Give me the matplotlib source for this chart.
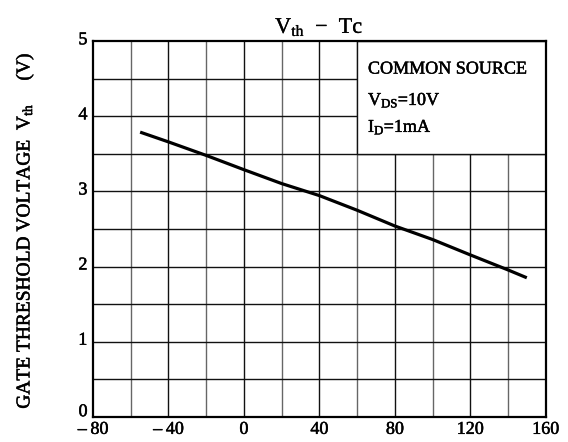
import numpy as np
import matplotlib
matplotlib.use("Agg")
import matplotlib.pyplot as plt
import matplotlib.patheffects as pe
from matplotlib.patches import Rectangle
from matplotlib.transforms import ScaledTranslation

# ---- DATA -------------------------------------------------------------------
tc = [-55, -40, -20, 0, 20, 40, 60, 80, 100, 120, 140, 150]
vth = [3.79, 3.66, 3.48, 3.29, 3.105, 2.945, 2.75, 2.54, 2.36, 2.155, 1.955, 1.85]

x_ticks = [-80, -40, 0, 40, 80, 120, 160]
x_tick_labels = ["\u2013\u200980", "\u2013\u200940", "0", "40", "80", "120", "160"]
y_ticks = [0, 1, 2, 3, 4, 5]
x_minor = [-60, -20, 20, 60, 100, 140]
y_minor = [0.5, 1.5, 2.5, 3.5, 4.5]

# ---- STYLE ------------------------------------------------------------------
plt.rcParams["font.family"] = ["Liberation Serif", "DejaVu Serif"]
plt.rcParams["mathtext.fontset"] = "custom"
plt.rcParams["mathtext.rm"] = "Liberation Serif"
plt.rcParams["mathtext.it"] = "Liberation Serif"
heavy = [pe.withStroke(linewidth=0.35, foreground="black")]

fig = plt.figure(figsize=(5.68, 4.42), dpi=100)
ax = fig.add_axes([0.1637, 0.0573, 0.797, 0.8493])

ax.set_xlim(-80, 160)
ax.set_ylim(0, 5)

# grid: major lines black, minor vertical a bit lighter
for x in x_ticks[1:-1]:
    ax.axvline(x, color="#111111", lw=1.0, zorder=1)
for x in x_minor:
    ax.axvline(x, color="#666666", lw=1.0, zorder=1)
for y in y_ticks[1:-1] + y_minor:
    ax.axhline(y, color="#111111", lw=1.0, zorder=1)

# condition box in upper right corner hides the grid
ax.add_patch(Rectangle((60, 3.5), 100, 1.5, facecolor="white", edgecolor="#111111",
                       lw=1.0, zorder=2))
box_font = dict(fontsize=13, va="center", ha="left", zorder=3, path_effects=heavy)
ax.text(65.8, 4.63, "COMMON SOURCE", **box_font)
ax.text(65.8, 4.22, r"V$_{\rm DS}$=10V", **box_font)
ax.text(65.8, 3.86, r"I$_{\rm D}$=1mA", **box_font)

ax.plot(tc, vth, color="black", lw=2.3, zorder=4, solid_capstyle="butt")

ax.set_xticks(x_ticks)
ax.set_xticklabels(x_tick_labels)
ax.set_yticks(y_ticks)
ax.tick_params(length=0, labelsize=13)
ax.tick_params(axis="x", pad=3)
ax.tick_params(axis="y", pad=4)
lift = ScaledTranslation(0, 2.5 / 72, fig.dpi_scale_trans)
ylabs = ax.get_yticklabels()
for lab in ylabs:
    lab.set_transform(lab.get_transform() + lift)
# the bottom "0" sits a little higher, clear of the "-80" below it
ylabs[0].set_transform(ylabs[0].get_transform() +
                       ScaledTranslation(0, 2.5 / 72, fig.dpi_scale_trans))
for lab in ax.get_xticklabels() + ylabs:
    lab.set_path_effects(heavy)

for sp in ax.spines.values():
    sp.set_linewidth(1.6)
    sp.set_zorder(5)

ax.set_title("V$_{\\rm th}$  \u2212  Tc", fontsize=16, pad=6,
             path_effects=[pe.withStroke(linewidth=0.2, foreground="black")])
fig.text(25 / 568, 1 - 230 / 442, r"GATE THRESHOLD VOLTAGE  V$_{\rm th}$     (V)",
         rotation=90, ha="center", va="center", fontsize=14, path_effects=heavy)

fig.savefig("out.png", dpi=100)
